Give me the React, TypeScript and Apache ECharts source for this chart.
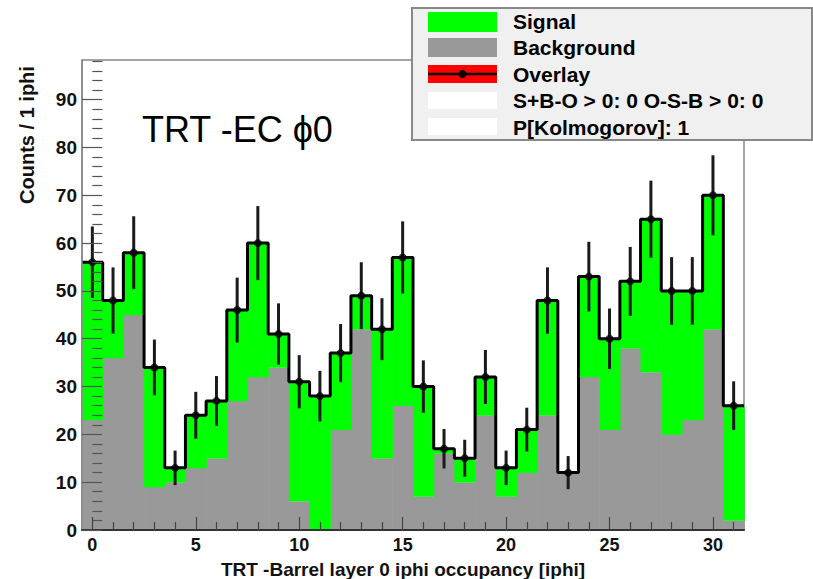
import React, { useEffect, useRef } from "react";
import * as echarts from "echarts";

// ---- data ----
const bins = [0, 1, 2, 3, 4, 5, 6, 7, 8, 9, 10, 11, 12, 13, 14, 15, 16, 17, 18, 19, 20, 21, 22, 23, 24, 25, 26, 27, 28, 29, 30, 31];
const background = [23, 36, 45, 9, 10, 13, 15, 27, 32, 34, 6, 0, 21, 42, 15, 26, 7, 16, 10, 24, 7, 12, 24, 12, 32, 21, 38, 33, 20, 23, 42, 2];
const signal = [33, 12, 13, 25, 3, 11, 12, 19, 28, 7, 25, 28, 16, 7, 27, 31, 23, 1, 5, 8, 6, 9, 24, 0, 21, 19, 14, 32, 30, 27, 28, 24];
const overlay = [56, 48, 58, 34, 13, 24, 27, 46, 60, 41, 31, 28, 37, 49, 42, 57, 30, 17, 15, 32, 13, 21, 48, 12, 53, 40, 52, 65, 50, 50, 70, 26];

const xMajorTicks = [0, 5, 10, 15, 20, 25, 30];
const xMinorTicks = [1, 2, 3, 4, 6, 7, 8, 9, 11, 12, 13, 14, 16, 17, 18, 19, 21, 22, 23, 24, 26, 27, 28, 29, 31];
const yMajorTicks = [0, 10, 20, 30, 40, 50, 60, 70, 80, 90];
const yMinorTicks = [2, 4, 6, 8, 12, 14, 16, 18, 22, 24, 26, 28, 32, 34, 36, 38, 42, 44, 46, 48, 52, 54, 56, 58, 62, 64, 66, 68, 72, 74, 76, 78, 82, 84, 86, 88, 92, 94, 96, 98];

const legendLabels = ["Signal", "Background", "Overlay", "S+B-O > 0: 0 O-S-B > 0: 0", "P[Kolmogorov]: 1"];
const titleText = "TRT -EC \u03d50";
const xTitle = "TRT -Barrel layer 0 iphi occupancy [iphi]";
const yTitle = "Counts / 1 iphi";

const FONT = '"Liberation Sans", Arial, Helvetica, sans-serif';
const GREEN = "#00ff00";
const GRAY = "#999999";

export default function App() {
  const ref = useRef<HTMLDivElement>(null);

  useEffect(() => {
    document.body.style.margin = "0";
    if (!ref.current) return;
    const chart = echarts.init(ref.current, null, { renderer: "svg" });

    const bgData = bins.map((b, i) => [b, background[i]]);
    const sigData = bins.map((b, i) => [b, background[i], signal[i]]);
    const stepData: number[][] = [];
    bins.forEach((b, i) => {
      stepData.push([b - 0.5, overlay[i]]);
      stepData.push([b + 0.5, overlay[i]]);
    });
    const errData = bins.map((b, i) => [b, overlay[i], Math.sqrt(overlay[i])]);
    const ptData = bins.map((b, i) => [b, overlay[i]]);

    const rowY = [21, 47, 74, 100, 127];
    const swatchX = 428;
    const swatchW = 69;
    const legendEls: any[] = [
      {
        type: "rect",
        shape: { x: 412, y: 8, width: 400, height: 132 },
        style: { fill: "#f0f0f0", stroke: "#888888", lineWidth: 2 },
        z: 100,
      },
      { type: "rect", shape: { x: swatchX, y: 12, width: swatchW, height: 20 }, style: { fill: GREEN }, z: 101 },
      { type: "rect", shape: { x: swatchX, y: 38, width: swatchW, height: 19 }, style: { fill: GRAY }, z: 101 },
      { type: "rect", shape: { x: swatchX, y: 65, width: swatchW, height: 18 }, style: { fill: "#ff0000" }, z: 101 },
      {
        type: "line",
        shape: { x1: swatchX, y1: 74, x2: swatchX + swatchW, y2: 74 },
        style: { stroke: "#000", lineWidth: 2.5 },
        z: 102,
      },
      { type: "circle", shape: { cx: swatchX + swatchW / 2, cy: 74, r: 4 }, style: { fill: "#000" }, z: 103 },
      { type: "rect", shape: { x: swatchX, y: 92, width: swatchW, height: 17 }, style: { fill: "#ffffff" }, z: 101 },
      { type: "rect", shape: { x: swatchX, y: 118, width: swatchW, height: 17 }, style: { fill: "#ffffff" }, z: 101 },
    ];
    legendLabels.forEach((t, i) => {
      legendEls.push({
        type: "text",
        x: 513,
        y: rowY[i],
        z: 104,
        style: {
          text: t,
          fill: "#000",
          font: `bold 21px ${FONT}`,
          align: "left",
          textAlign: "left",
          verticalAlign: "middle",
          textVerticalAlign: "middle",
        },
      });
    });

    const option: any = {
      animation: false,
      backgroundColor: "#ffffff",
      grid: {
        left: 82,
        right: 69,
        top: 60,
        bottom: 49,
        show: true,
        borderColor: "#888888",
        borderWidth: 1.5,
        backgroundColor: "transparent",
      },
      xAxis: [
        {
          type: "value",
          min: -0.5,
          max: 31.5,
          position: "bottom",
          axisLine: { show: true, onZero: false, lineStyle: { color: "#333", width: 2 } },
          axisTick: { show: true, inside: true, length: 13, customValues: xMajorTicks, lineStyle: { color: "#444", width: 1.2 } },
          axisLabel: {
            show: true,
            customValues: xMajorTicks,
            fontSize: 18,
            fontWeight: "bold",
            fontFamily: FONT,
            color: "#111",
            margin: 6,
          },
          splitLine: { show: false },
          z: 10,
        },
        {
          type: "value",
          min: -0.5,
          max: 31.5,
          position: "bottom",
          axisLine: { show: false },
          axisTick: { show: true, inside: true, length: 8, customValues: xMinorTicks, lineStyle: { color: "#444", width: 1.2 } },
          axisLabel: { show: false },
          splitLine: { show: false },
          z: 10,
        },
      ],
      yAxis: [
        {
          type: "value",
          min: 0,
          max: 98.3,
          position: "left",
          axisLine: { show: true, onZero: false, lineStyle: { color: "#888", width: 1.5 } },
          axisTick: { show: true, inside: true, length: 20, customValues: yMajorTicks, lineStyle: { color: "#555", width: 1.2 } },
          axisLabel: {
            show: true,
            customValues: yMajorTicks,
            fontSize: 19,
            fontWeight: "bold",
            fontFamily: FONT,
            color: "#111",
            margin: 5,
          },
          splitLine: { show: false },
          z: 10,
        },
        {
          type: "value",
          min: 0,
          max: 98.3,
          position: "left",
          axisLine: { show: false },
          axisTick: { show: true, inside: true, length: 10, customValues: yMinorTicks, lineStyle: { color: "#555", width: 1.2 } },
          axisLabel: { show: false },
          splitLine: { show: false },
          z: 10,
        },
      ],
      series: [
        {
          name: "Background",
          type: "custom",
          xAxisIndex: 0,
          yAxisIndex: 0,
          data: bgData,
          z: 1,
          renderItem: (params: any, api: any) => {
            const x = api.value(0);
            const v = api.value(1);
            if (v <= 0) return null;
            const p0 = api.coord([x - 0.5, 0]);
            const p1 = api.coord([x + 0.5, v]);
            return {
              type: "rect",
              shape: { x: p0[0], y: p1[1], width: p1[0] - p0[0] + 0.6, height: p0[1] - p1[1] },
              style: { fill: GRAY },
            };
          },
        },
        {
          name: "Signal",
          type: "custom",
          xAxisIndex: 0,
          yAxisIndex: 0,
          data: sigData,
          z: 1,
          renderItem: (params: any, api: any) => {
            const x = api.value(0);
            const b = api.value(1);
            const s = api.value(2);
            if (s <= 0) return null;
            const p0 = api.coord([x - 0.5, b]);
            const p1 = api.coord([x + 0.5, b + s]);
            return {
              type: "rect",
              shape: { x: p0[0], y: p1[1], width: p1[0] - p0[0] + 0.6, height: p0[1] - p1[1] + 0.3 },
              style: { fill: GREEN },
            };
          },
        },
        {
          name: "Overlay",
          type: "line",
          xAxisIndex: 0,
          yAxisIndex: 0,
          data: stepData,
          symbol: "none",
          lineStyle: { color: "#000", width: 3 },
          z: 3,
        },
        {
          name: "Overlay errors",
          type: "custom",
          xAxisIndex: 0,
          yAxisIndex: 0,
          data: errData,
          z: 4,
          renderItem: (params: any, api: any) => {
            const x = api.value(0);
            const v = api.value(1);
            const e = api.value(2);
            const lo = api.coord([x, v - e]);
            const hi = api.coord([x, v + e]);
            return {
              type: "line",
              shape: { x1: lo[0], y1: lo[1], x2: hi[0], y2: hi[1] },
              style: { stroke: "#1a1a1a", lineWidth: 3 },
            };
          },
        },
        {
          name: "Overlay points",
          type: "scatter",
          xAxisIndex: 0,
          yAxisIndex: 0,
          data: ptData,
          symbol: "circle",
          symbolSize: 8,
          itemStyle: { color: "#000" },
          z: 5,
        },
      ],
      graphic: [
        {
          type: "text",
          x: 142,
          y: 129,
          z: 50,
          style: {
            text: titleText,
            fill: "#000",
            font: `normal 36px ${FONT}`,
            align: "left",
            textAlign: "left",
            verticalAlign: "middle",
            textVerticalAlign: "middle",
          },
        },
        {
          type: "text",
          x: 403,
          y: 569,
          z: 50,
          style: {
            text: xTitle,
            fill: "#111",
            font: `bold 19px ${FONT}`,
            align: "center",
            textAlign: "center",
            verticalAlign: "middle",
            textVerticalAlign: "middle",
          },
        },
        {
          type: "text",
          x: 27,
          y: 135,
          rotation: Math.PI / 2,
          z: 50,
          style: {
            text: yTitle,
            fill: "#111",
            font: `bold 20px ${FONT}`,
            align: "center",
            textAlign: "center",
            verticalAlign: "middle",
            textVerticalAlign: "middle",
          },
        },
        ...legendEls,
      ],
    };

    chart.setOption(option);
    return () => {
      chart.dispose();
    };
  }, []);

  return <div ref={ref} style={{ width: 813, height: 579 }} />;
}
